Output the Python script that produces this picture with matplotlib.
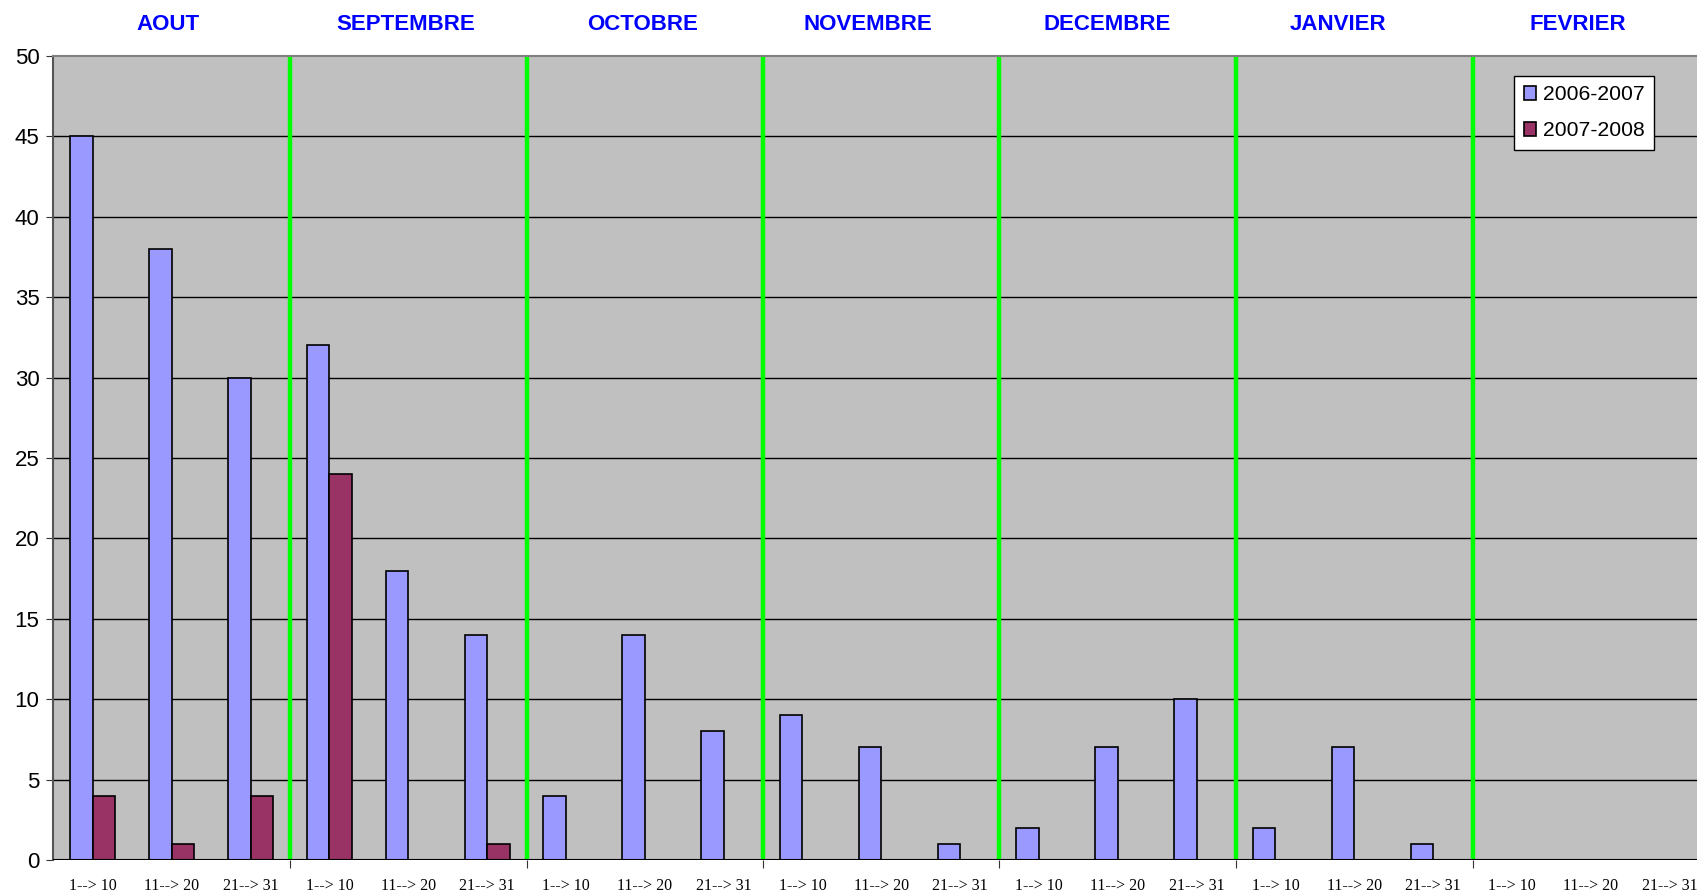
import numpy as np
import matplotlib
matplotlib.use("Agg")
import matplotlib.pyplot as plt
import matplotlib.transforms as mtransforms

# Data
months = ["AOUT", "SEPTEMBRE", "OCTOBRE", "NOVEMBRE", "DECEMBRE", "JANVIER", "FEVRIER"]
decades = ["1--> 10", "11--> 20", "21--> 31"]
s2006 = [45, 38, 30, 32, 18, 14, 4, 14, 8, 9, 7, 1, 2, 7, 10, 2, 7, 1, 0, 0, 0]
s2007 = [4, 1, 4, 24, 0, 1, 0, 0, 0, 0, 0, 0, 0, 0, 0, 0, 0, 0, 0, 0, 0]
series_names = ["2006-2007", "2007-2008"]

plt.rcParams['font.family'] = ['Liberation Sans', 'DejaVu Sans']

fig = plt.figure(figsize=(16.97, 8.92), dpi=100)
W, H = 1697, 892
left, right, top, bottom = 53.5, 53.5 + 7 * 236.5, 56, 860
ax = fig.add_axes([left / W, 1 - bottom / H, (right - left) / W, (bottom - top) / H])
ax.set_facecolor('#C0C0C0')

n = len(s2006)
x = np.arange(n)
bw = 1 / 3.5
ax.bar(x - bw / 2, s2006, bw, color='#9999FF', edgecolor='black', linewidth=1.2,
       label=series_names[0], zorder=3)
# skip drawing zero bars for the second series
mask = np.array(s2007) > 0
ax.bar(x[mask] + bw / 2, np.array(s2007)[mask], bw, color='#993366', edgecolor='black',
       linewidth=1.2, label=series_names[1], zorder=3)

ax.set_xlim(-0.5, n - 0.5)
ax.set_ylim(0, 50)
ax.set_yticks(range(0, 51, 5))
for yv in range(5, 50, 5):
    ax.axhline(yv, color='black', lw=1, zorder=1)
ax.axhline(0, color='black', lw=1.5, zorder=4)

# month separators
for b in np.arange(2.5, n - 1, 3):
    ax.axvline(b, color='#00FF00', lw=3.2, zorder=2)

# ticks
ax.set_xticks(np.arange(2.5, n, 3))
ax.set_xticklabels([])
ax.tick_params(axis='x', which='major', length=6, color='#333333', direction='out')
ax.set_xticks(x, minor=True)
ax.set_xticklabels(decades * len(months), minor=True, fontfamily='Liberation Serif', fontsize=11.5)
ax.tick_params(axis='x', which='minor', length=0, pad=13)
ax.tick_params(axis='y', labelsize=16, length=5, color='#333333', pad=5)

ax.spines['right'].set_visible(False)
ax.spines['top'].set_color('#808080')
ax.spines['top'].set_linewidth(1.5)
ax.spines['left'].set_color('#555555')
ax.spines['left'].set_linewidth(1.5)
ax.spines['bottom'].set_visible(False)

# month titles
title_shift = [-0.045, -0.03, -0.03, -0.17, -0.14, -0.2, -0.17]
trans = mtransforms.blended_transform_factory(ax.transData, fig.transFigure)
for i, m in enumerate(months):
    ax.text(3 * i + 1 + title_shift[i], 1 - 24 / H, m, transform=trans, ha='center', va='center',
            color='#0000FF', fontsize=16, fontweight='bold')

leg = ax.legend(loc='upper right', bbox_to_anchor=(1654 / W, 1 - 76 / H),
                bbox_transform=fig.transFigure, fontsize=15.2, frameon=True, fancybox=False,
                edgecolor='black', framealpha=1, handlelength=0.6, handleheight=0.6,
                handletextpad=0.3, borderpad=0.45, labelspacing=0.8, borderaxespad=0)
leg.get_frame().set_linewidth(1)

fig.savefig('out.png', dpi=100)
